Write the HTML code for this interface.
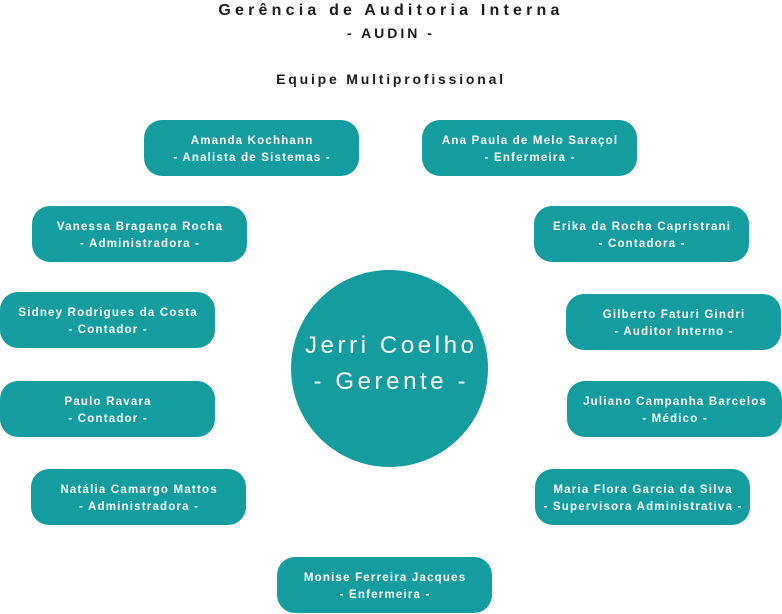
<!DOCTYPE html>
<html><head><meta charset="utf-8"><style>
html,body{margin:0;padding:0;background:#fff;}
body{width:782px;height:614px;position:relative;overflow:hidden;font-family:"Liberation Sans",sans-serif;}
.t{position:absolute;left:0;width:782px;text-align:center;color:#1b1b1b;font-weight:bold;white-space:nowrap;}
.b{position:absolute;width:215px;height:56px;box-sizing:border-box;padding-top:4px;border-radius:18px;background:#149c9e;color:#fff;display:flex;flex-direction:column;justify-content:center;align-items:center;font-size:11.5px;font-weight:bold;letter-spacing:1.2px;line-height:17px;white-space:nowrap;}
.b span{display:block;margin-right:-1.2px;}
.c{position:absolute;left:291px;top:270px;width:197px;height:197px;box-sizing:border-box;padding-bottom:10px;border-radius:50%;background:#149c9e;color:#fff;display:flex;flex-direction:column;justify-content:center;align-items:center;font-size:24px;letter-spacing:3.6px;line-height:36px;white-space:nowrap;}
.c span{display:block;margin-right:-3.6px;}
</style></head><body>
<div class="t" style="top:0px;font-size:16px;letter-spacing:4.2px;line-height:22px;">Gerência de Auditoria Interna</div>
<div class="t" style="top:24px;font-size:14px;letter-spacing:3px;line-height:18px;">- AUDIN -</div>
<div class="t" style="top:70px;font-size:14px;letter-spacing:2.8px;line-height:18px;">Equipe Multiprofissional</div>

<div class="b" style="left:144px;top:120px;"><span>Amanda Kochhann</span><span>- Analista de Sistemas -</span></div>
<div class="b" style="left:422px;top:120px;"><span>Ana Paula de Melo Saraçol</span><span>- Enfermeira -</span></div>
<div class="b" style="left:32px;top:206px;"><span>Vanessa Bragança Rocha</span><span>- Administradora -</span></div>
<div class="b" style="left:534px;top:206px;"><span>Erika da Rocha Capristrani</span><span>- Contadora -</span></div>
<div class="b" style="left:0px;top:292px;"><span>Sidney Rodrigues da Costa</span><span>- Contador -</span></div>
<div class="b" style="left:566px;top:294px;"><span>Gilberto Faturi Gindri</span><span>- Auditor Interno -</span></div>
<div class="b" style="left:0px;top:381px;"><span>Paulo Ravara</span><span>- Contador -</span></div>
<div class="b" style="left:567px;top:381px;"><span>Juliano Campanha Barcelos</span><span>- Médico -</span></div>
<div class="b" style="left:31px;top:469px;"><span>Natália Camargo Mattos</span><span>- Administradora -</span></div>
<div class="b" style="left:535px;top:469px;"><span>Maria Flora Garcia da Silva</span><span>- Supervisora Administrativa -</span></div>
<div class="b" style="left:277px;top:557px;"><span>Monise Ferreira Jacques</span><span>- Enfermeira -</span></div>

<div class="c"><span>Jerri Coelho</span><span>- Gerente -</span></div>
</body></html>
